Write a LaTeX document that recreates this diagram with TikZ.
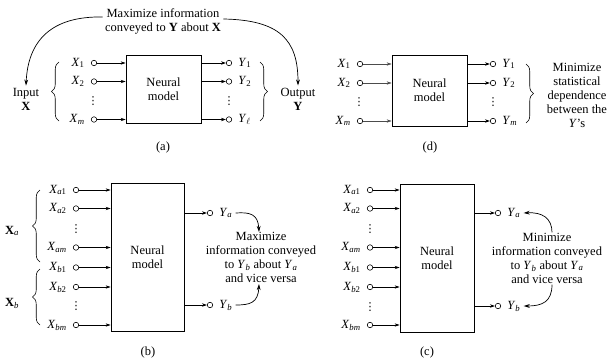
\documentclass[tikz,border=0pt]{standalone}
\usepackage{fontspec}
\setmainfont{Liberation Serif}
\newfontfamily\djv{DejaVu Sans}
\usetikzlibrary{arrows.meta,decorations.pathreplacing,calc,positioning}
\newcommand{\vi}[2]{\textit{#1}\textsubscript{#2}}
\newcommand{\vdd}{{\djv\fontsize{11}{11}\selectfont ⋮}}
\begin{document}
\begin{tikzpicture}[x=1pt,y=-1pt,
  font=\fontsize{12.5}{14}\selectfont,
  line width=0.7pt,
  nbox/.style={draw, line width=0.8pt, align=center, inner sep=0pt},
  pin/.style={draw, circle, inner sep=0pt, minimum size=5.5pt, line width=0.6pt},
  lab/.style={inner sep=1pt},
  vd/.style={inner sep=0pt},
  arr/.style={-{Stealth[length=5pt,width=3.4pt]}},
  carr/.style={-{Stealth[length=6pt,width=3.8pt]}},
  brc/.style={decorate, decoration={brace, amplitude=7.5pt}, line width=0.6pt},
  txt/.style={align=center, inner sep=2pt}]
\useasboundingbox (0,0) rectangle (607,361);

% ---------------- (a) ----------------
\node[nbox, minimum width=75pt, minimum height=68pt] (ba) at (163.5,89) {Neural\\model};
\foreach \n/\y in {1/63, 2/81.5, m/119.5} {
  \node[pin] (ai\n) at (94,\y) {};
  \draw[arr] (ai\n) -- (ai\n -| ba.west);
}
\foreach \n/\y in {1/63, 2/81.5, l/119.5} {
  \node[pin] (ao\n) at (229,\y) {};
  \draw[arr] (ao\n -| ba.east) -- (ao\n);
}
\node[lab, left=5pt of ai1] (lai1) {\vi{X}{1}};
\node[lab, left=5pt of ai2] (lai2) {\vi{X}{2}};
\node[lab, left=5pt of aim] (laim) {\vi{X}{\textit{m}}};
\node[lab, right=5pt of ao1] (lao1) {\vi{Y}{1}};
\node[lab, right=5pt of ao2] (lao2) {\vi{Y}{2}};
\node[lab, right=5pt of aol] (laol) {\vi{Y}{$\ell$}};
\node[vd] (adi) at (93,101) {\vdd};
\node[vd] (ado) at (229,101) {\vdd};
\draw[brc] (59,121) -- (59,62);
\draw[brc] (260,62) -- (260,121);
\node[txt] (inA) at (26,99) {Input\\\textbf{X}};
\node[txt] (outA) at (298,99) {Output\\\textbf{Y}};
\node[txt] (ta) at (163,21) {Maximize information\\conveyed to \textbf{Y} about \textbf{X}};
\draw[carr] ($(ta.west)+(0,-4)$) .. controls (52,16) and (28,40) .. (inA.north);
\draw[carr] ($(ta.east)+(0,-2)$) .. controls (280,20) and (298,40) .. (outA.north);
\node (capa) at (163,147) {(a)};

% ---------------- (d) ----------------
\node[nbox, minimum width=75pt, minimum height=71pt] (bd) at (429.5,90.5) {Neural\\model};
\foreach \n/\y in {1/64, 2/83, m/121} {
  \node[pin] (di\n) at (360,\y) {};
  \draw[arr, draw=black!70, line width=0.5pt] (di\n) -- (di\n -| bd.west);
  \node[pin] (do\n) at (493,\y) {};
  \draw[arr] (do\n -| bd.east) -- (do\n);
}
\node[lab, left=5pt of di1] (ldi1) {\vi{X}{1}};
\node[lab, left=5pt of di2] (ldi2) {\vi{X}{2}};
\node[lab, left=5pt of dim] (ldim) {\vi{X}{\textit{m}}};
\node[lab, right=5pt of do1] (ldo1) {\vi{Y}{1}};
\node[lab, right=5pt of do2] (ldo2) {\vi{Y}{2}};
\node[lab, right=5pt of dom] (ldom) {\vi{Y}{\textit{m}}};
\node[vd] (ddi) at (359,102) {\vdd};
\node[vd] (ddo) at (493,102) {\vdd};
\draw[brc] (526,64) -- (526,123);
\node[txt] (td) at (577,95) {Minimize\\statistical\\dependence\\between the\\\textit{Y}’s};
\node (capd) at (430,147) {(d)};

% ---------------- (b) ----------------
\node[nbox, minimum width=73pt, minimum height=148pt] (bb) at (147.5,257.5) {Neural\\model};
\foreach \n/\y in {a1/190, a2/208.5, am/247.5, b1/267.5, b2/287, bm/325} {
  \node[pin] (bi\n) at (76,\y) {};
  \draw[arr] (bi\n) -- (bi\n -| bb.west);
}
\node[lab, left=5pt of bia1] (lbia1) {\vi{X}{\textit{a}1}};
\node[lab, left=5pt of bia2] (lbia2) {\vi{X}{\textit{a}2}};
\node[lab, left=5pt of biam] (lbiam) {\vi{X}{\textit{am}}};
\node[lab, left=5pt of bib1] (lbib1) {\vi{X}{\textit{b}1}};
\node[lab, left=5pt of bib2] (lbib2) {\vi{X}{\textit{b}2}};
\node[lab, left=5pt of bibm] (lbibm) {\vi{X}{\textit{bm}}};
\node[vd] (bd1) at (76,229) {\vdd};
\node[vd] (bd2) at (76,306) {\vdd};
\draw[brc] (40,262) -- (40,190);
\draw[brc] (40,325) -- (40,269);
\node (lxa) at (12,231) {\textbf{X}\textsubscript{\textit{a}}};
\node (lxb) at (12,303) {\textbf{X}\textsubscript{\textit{b}}};
\foreach \n/\y in {a/213, b/305} {
  \node[pin] (bo\n) at (210,\y) {};
  \draw[arr] (bo\n -| bb.east) -- (bo\n);
}
\node[lab, right=5pt of boa] (lboa) {\vi{Y}{\textit{a}}};
\node[lab, right=5pt of bob] (lbob) {\vi{Y}{\textit{b}}};
\node[txt] (tb) at (261,257.5) {Maximize\\information conveyed\\to \vi{Y}{\textit{b}} about \vi{Y}{\textit{a}}\\and vice versa};
\draw[carr] ($(lboa.east)+(2,0)$) .. controls (250,212) and (258,214) .. ($(tb.north)+(-2,2)$);
\draw[carr] ($(lbob.east)+(2,0)$) .. controls (250,305) and (258,303) .. ($(tb.south)+(-2,-1)$);
\node (capb) at (148,352) {(b)};

% ---------------- (c) ----------------
\node[nbox, minimum width=74pt, minimum height=148pt] (bc) at (437,258) {Neural\\model};
\foreach \n/\y in {a1/190, a2/208.5, am/247.5, b1/267.5, b2/287, bm/325} {
  \node[pin] (ci\n) at (370,\y) {};
  \draw[arr] (ci\n) -- (ci\n -| bc.west);
}
\node[lab, left=5pt of cia1] (lcia1) {\vi{X}{\textit{a}1}};
\node[lab, left=5pt of cia2] (lcia2) {\vi{X}{\textit{a}2}};
\node[lab, left=5pt of ciam] (lciam) {\vi{X}{\textit{am}}};
\node[lab, left=5pt of cib1] (lcib1) {\vi{X}{\textit{b}1}};
\node[lab, left=5pt of cib2] (lcib2) {\vi{X}{\textit{b}2}};
\node[lab, left=5pt of cibm] (lcibm) {\vi{X}{\textit{bm}}};
\node[vd] (cd1) at (370,229) {\vdd};
\node[vd] (cd2) at (370,307) {\vdd};
\foreach \n/\y in {a/213, b/306} {
  \node[pin] (co\n) at (498,\y) {};
  \draw[arr] (co\n -| bc.east) -- (co\n);
}
\node[lab, right=5pt of coa] (lcoa) {\vi{Y}{\textit{a}}};
\node[lab, right=5pt of cob] (lcob) {\vi{Y}{\textit{b}}};
\node[txt] (tc) at (547,258) {Minimize\\information conveyed\\to \vi{Y}{\textit{b}} about \vi{Y}{\textit{a}}\\and vice versa};
\draw[carr] ($(tc.north)+(5,2)$) .. controls (552,218) and (542,212) .. ($(lcoa.east)+(2,0)$);
\draw[carr] ($(tc.south)+(5,-1)$) .. controls (552,302) and (542,306) .. ($(lcob.east)+(2,0)$);
\node (capc) at (427,352) {(c)};
\end{tikzpicture}
\end{document}
